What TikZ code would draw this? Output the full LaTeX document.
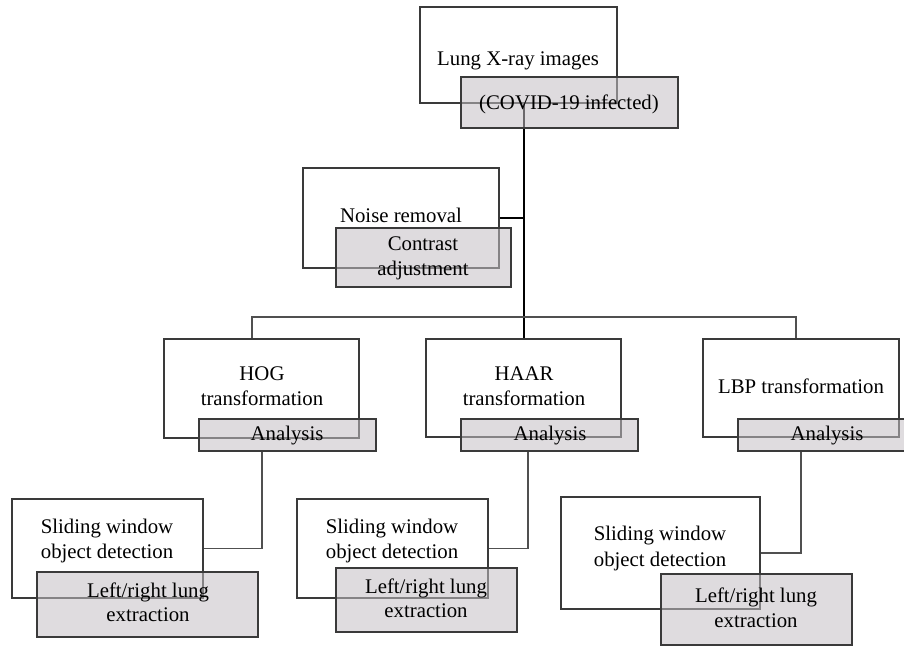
\documentclass[tikz,border=0pt]{standalone}
\usepackage{fontspec}
\setmainfont{Liberation Serif}
\definecolor{boxline}{RGB}{58,58,58}
\definecolor{conline}{RGB}{80,80,80}
\definecolor{grayfill}{RGB}{196,191,196}
\begin{document}
\begin{tikzpicture}[x=1pt,y=-1pt,
  wbox/.style={draw=boxline,line width=1.3pt,fill=white,inner sep=0pt,rectangle},
  gbox/.style={draw=boxline,line width=1.3pt,fill=grayfill,fill opacity=0.55,inner sep=0pt,rectangle},
  lbl/.style={anchor=base,inner sep=0pt,font=\fontsize{20.8}{25}\selectfont},
  mainline/.style={draw=black,line width=2pt},
  conn/.style={draw=conline,line width=1.4pt}]
\useasboundingbox (0,0) rectangle (904,646);
% white boxes
\node[wbox,minimum width=197pt,minimum height=96pt] (lungW) at (518.5,55) {};
\node[wbox,minimum width=196pt,minimum height=100pt] (noiseW) at (401,218) {};
\node[wbox,minimum width=195pt,minimum height=99pt] (hogW) at (261.5,388.5) {};
\node[wbox,minimum width=195pt,minimum height=98pt] (haarW) at (523.5,388) {};
\node[wbox,minimum width=196pt,minimum height=98pt] (lbpW) at (801,388) {};
\node[wbox,minimum width=191pt,minimum height=99pt] (sw1W) at (107.5,548.5) {};
\node[wbox,minimum width=191pt,minimum height=99pt] (sw2W) at (392.5,548.5) {};
\node[wbox,minimum width=199pt,minimum height=112pt] (sw3W) at (660.5,553) {};
% connectors
\coordinate (barL) at (252,317);
\coordinate (barR) at (796,317);
\draw[mainline] (haarW.north |- lungW.south) -- (haarW.north);
\draw[mainline] (noiseW.east) -- (noiseW.east -| haarW.north);
\draw[conn] (barL |- hogW.north) -- (barL) -- (barR) -- (barR |- lbpW.north);
% gray boxes
\node[gbox,minimum width=217pt,minimum height=51pt] (lungG) at (569.5,102.5) {};
\node[gbox,minimum width=175pt,minimum height=59pt] (noiseG) at (423.5,257.5) {};
\node[gbox,minimum width=177pt,minimum height=32pt] (hogG) at (287.5,435) {};
\node[gbox,minimum width=177pt,minimum height=32pt] (haarG) at (549.5,435) {};
\node[gbox,minimum width=177pt,minimum height=32pt] (lbpG) at (826.5,435) {};
\node[gbox,minimum width=221pt,minimum height=65pt] (sw1G) at (147.5,604.5) {};
\node[gbox,minimum width=181pt,minimum height=64pt] (sw2G) at (426.5,600) {};
\node[gbox,minimum width=191pt,minimum height=71pt] (sw3G) at (756.5,609.5) {};
% analysis connectors
\draw[conn] ([xshift=-25.5pt]hogG.south) |- (sw1W.east);
\draw[conn] ([xshift=-21.5pt]haarG.south) |- (sw2W.east);
\draw[conn] ([xshift=-25.5pt]lbpG.south) |- (sw3W.east);
% labels
\node[lbl] (t1) at (518,65.5) {Lung X-ray images};
\node[lbl] (t2) at (569,109) {(COVID-19 infected)};
\node[lbl] (t3) at (401,222.5) {Noise removal};
\node[lbl] (t4) at (423,250) {Contrast};
\node[lbl] (t5) at (423,275.5) {adjustment};
\node[lbl] (t6) at (262,380) {HOG};
\node[lbl] (t7) at (262,405.5) {transformation};
\node[lbl] (t8) at (287,440) {Analysis};
\node[lbl] (t9) at (524,380) {HAAR};
\node[lbl] (t10) at (524,405.5) {transformation};
\node[lbl] (t11) at (550,440) {Analysis};
\node[lbl] (t12) at (801,393) {LBP transformation};
\node[lbl] (t13) at (827,440) {Analysis};
\node[lbl] (t14) at (107,533) {Sliding window};
\node[lbl] (t15) at (107,558) {object detection};
\node[lbl] (t16) at (148,597) {Left/right lung};
\node[lbl] (t17) at (148,621.5) {extraction};
\node[lbl] (t18) at (392,533) {Sliding window};
\node[lbl] (t19) at (392,558) {object detection};
\node[lbl] (t20) at (426,593) {Left/right lung};
\node[lbl] (t21) at (426,617.5) {extraction};
\node[lbl] (t22) at (660,540) {Sliding window};
\node[lbl] (t23) at (660,566) {object detection};
\node[lbl] (t24) at (756,602) {Left/right lung};
\node[lbl] (t25) at (756,627.5) {extraction};
\end{tikzpicture}
\end{document}
